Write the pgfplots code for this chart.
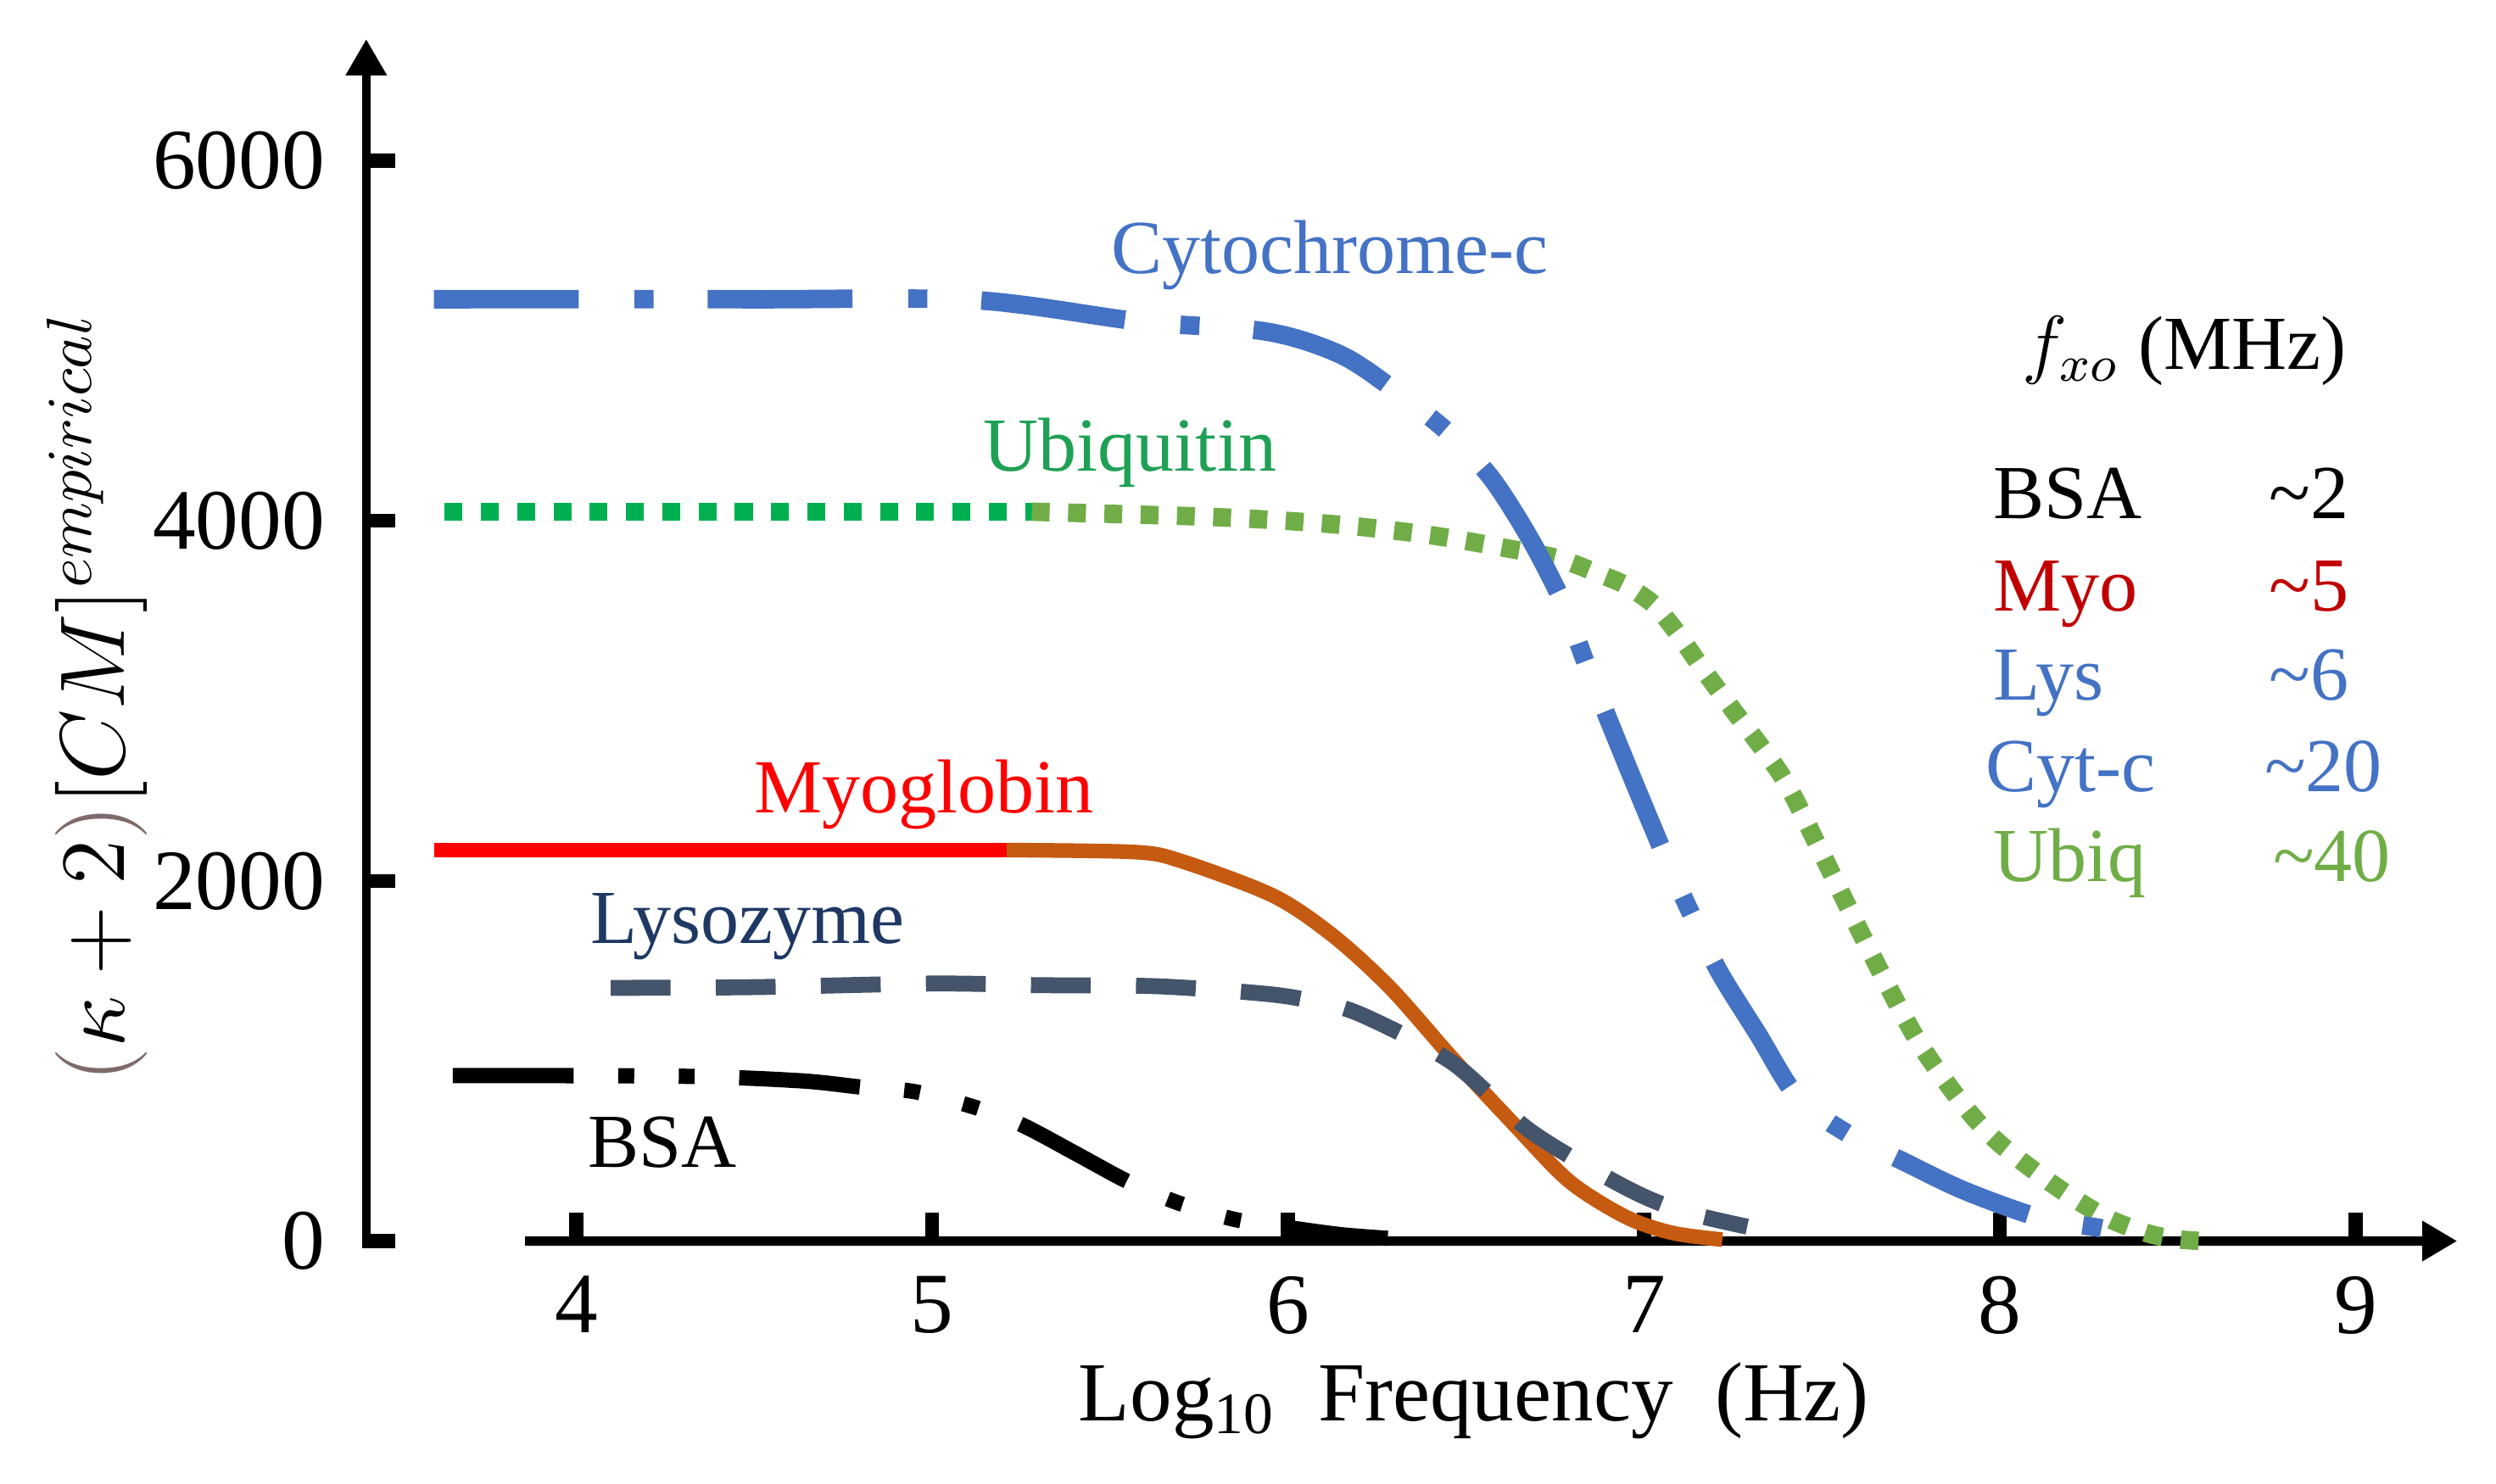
\documentclass[border=0pt]{standalone}
\usepackage{fontspec}
\setmainfont{Liberation Serif}
\usepackage{pgfplots}
\pgfplotsset{compat=1.18}
\usetikzlibrary{arrows.meta}
\definecolor{cytblue}{HTML}{4472C4}
\definecolor{ubgreen}{HTML}{00B050}
\definecolor{ubgreentwo}{HTML}{70AD47}
\definecolor{ublabel}{HTML}{1FA055}
\definecolor{myored}{HTML}{FF0000}
\definecolor{myoorange}{HTML}{C55A11}
\definecolor{lysgray}{HTML}{44546A}
\definecolor{lysnavy}{HTML}{1F3864}
\definecolor{darkred}{HTML}{C00000}
\definecolor{parenbrown}{HTML}{7F6A6A}
\begin{document}
\begin{tikzpicture}
\begin{axis}[
  scale only axis,
  width=328.4pt, height=188.8pt,
  xmin=3.41, xmax=9.285, ymin=0, ymax=6675,
  axis lines=left,
  axis line style={draw=none},
  clip=false,
  xtick={4,5,6,7,8,9},
  ytick={0,2000,4000,6000},
  tick align=inside,
  major tick length=4.5pt,
  tick style={line width=2.2pt, black},
  ticklabel style={font=\fontsize{13.5}{16}\selectfont},
  /pgf/number format/assume math mode=true,
  scaled y ticks=false,
  yticklabel style={/pgf/number format/1000 sep={}, xshift=-3pt},
  xticklabel style={yshift=-2pt},
]
% axes
\draw[line width=1.4pt, -{Triangle[length=5.7pt,width=6.1pt]}] (axis cs:3.41,-40) -- (axis cs:3.41,6675);
\draw[line width=1.4pt, -{Triangle[length=5.5pt,width=6pt]}] (axis cs:3.857,0) -- (axis cs:9.285,0);

% BSA
\addplot[black, line width=2.4pt, smooth, line cap=butt,
  dash pattern=on 19pt off 7pt on 2.5pt off 7pt on 2.5pt off 7pt] coordinates {
(3.653,919) (4.3,915) (4.63,890) (4.80,855) (4.95,830) (5.11,749) (5.25,647) (5.40,490)
(5.55,330) (5.69,213) (5.85,120) (6.0,75) (6.15,35) (6.28,15)};

% Myoglobin
\addplot[myored, line width=2.3pt] coordinates {(3.60,2171) (5.21,2171)};
\addplot[myoorange, line width=2.3pt, smooth] coordinates {
(5.21,2171) (5.57,2160) (5.7,2110) (5.96,1916) (6.13,1690) (6.29,1400) (6.46,1019)
(6.63,658) (6.79,332) (6.95,133) (7.08,45) (7.22,8)};

% Lysozyme
\addplot[lysgray, line width=2.5pt, smooth, line cap=butt,
  dash pattern=on 9.4pt off 7.1pt] coordinates {
(4.097,1406) (4.5,1410) (5.0,1430) (5.3,1421) (5.63,1415) (5.92,1376) (6.05,1340)
(6.2,1262) (6.46,993) (6.68,612) (6.94,306) (7.1,170) (7.29,80)};

% Ubiquitin
\addplot[ubgreen, line width=2.9pt, line cap=butt,
  dash pattern=on 2.8pt off 2.9pt] coordinates {(3.63,4050) (5.28,4050)};
\addplot[ubgreentwo, line width=2.9pt, smooth, line cap=butt,
  dash pattern=on 2.8pt off 2.9pt] coordinates {
(5.28,4050) (5.8,4020) (6.13,3980) (6.4,3920) (6.62,3845) (6.76,3790) (6.88,3700)
(6.95,3640) (7.03,3530) (7.10,3360) (7.16,3190) (7.25,2950) (7.39,2575) (7.5,2150)
(7.64,1590) (7.77,1110) (7.9,750) (8.0,540) (8.16,300) (8.3,130) (8.42,40) (8.5,10) (8.57,0)};

% Cytochrome-c
\addplot[cytblue, line width=2.9pt, smooth, line cap=butt,
  dash pattern=on 22.75pt off 8.75pt on 3pt off 8.5pt] coordinates {
(3.60,5230) (4.5,5230) (5.12,5225) (5.58,5107) (5.94,5050) (6.15,4920) (6.31,4709)
(6.45,4490) (6.57,4240) (6.68,3900) (6.775,3533) (6.84,3193) (6.95,2654) (7.06,2132)
(7.13,1828) (7.21,1500) (7.32,1150) (7.43,802) (7.57,599) (7.73,441) (7.9,280)
(8.11,131) (8.29,69) (8.33,34)};

% series labels
\node[anchor=base, text=cytblue, font=\fontsize{12}{14}\selectfont] at (axis cs:6.117,5372) {Cytochrome-c};
\node[anchor=base, text=ublabel, font=\fontsize{12}{14}\selectfont] at (axis cs:5.556,4278) {Ubiquitin};
\node[anchor=base, text=myored, font=\fontsize{12}{14}\selectfont] at (axis cs:4.977,2376) {Myoglobin};
\node[anchor=base, text=lysnavy, font=\fontsize{12}{14}\selectfont] at (axis cs:4.482,1651) {Lysozyme};
\node[anchor=base, text=black, font=\fontsize{12}{14}\selectfont] at (axis cs:4.243,409) {BSA};

% f_xo table
\node[anchor=base west, font=\fontsize{12}{14}\selectfont, inner sep=0pt] at (axis cs:8.06,4839) {$f_{xo}$ (MHz)};
\node[anchor=base west, font=\fontsize{12}{14}\selectfont, inner sep=0pt] at (axis cs:7.978,4011) {BSA};
\node[anchor=base west, font=\fontsize{12}{14}\selectfont, inner sep=0pt] at (axis cs:8.753,4011) {\textasciitilde 2};
\node[anchor=base west, text=darkred, font=\fontsize{12}{14}\selectfont, inner sep=0pt] at (axis cs:7.978,3498) {Myo};
\node[anchor=base west, text=darkred, font=\fontsize{12}{14}\selectfont, inner sep=0pt] at (axis cs:8.753,3498) {\textasciitilde 5};
\node[anchor=base west, text=cytblue, font=\fontsize{12}{14}\selectfont, inner sep=0pt] at (axis cs:7.978,3003) {Lys};
\node[anchor=base west, text=cytblue, font=\fontsize{12}{14}\selectfont, inner sep=0pt] at (axis cs:8.753,3003) {\textasciitilde 6};
\node[anchor=base west, text=cytblue, font=\fontsize{12}{14}\selectfont, inner sep=0pt] at (axis cs:7.956,2495) {Cyt-c};
\node[anchor=base west, text=cytblue, font=\fontsize{12}{14}\selectfont, inner sep=0pt] at (axis cs:8.740,2495) {\textasciitilde 20};
\node[anchor=base west, text=ubgreentwo, font=\fontsize{12}{14}\selectfont, inner sep=0pt] at (axis cs:7.978,1999) {Ubiq};
\node[anchor=base west, text=ubgreentwo, font=\fontsize{12}{14}\selectfont, inner sep=0pt] at (axis cs:8.764,1999) {\textasciitilde 40};

% axis titles
\node[rotate=90, font=\fontsize{14}{16}\selectfont] at (axis cs:2.653,3021)
  {$\textcolor{parenbrown}{(}\kappa+2\textcolor{parenbrown}{)}[CM]^{empirical}$};
\node[anchor=base, font=\fontsize{13.2}{16}\selectfont] at (axis cs:6.522,-1000)
  {Log\textsubscript{10}\ \ Frequency\ \ (Hz)};

\coordinate (TL) at (axis cs:2.381,6892);
\coordinate (BR) at (axis cs:9.394,-1345);
\end{axis}
\pgfresetboundingbox
\useasboundingbox (TL) rectangle (BR);
\end{tikzpicture}
\end{document}
